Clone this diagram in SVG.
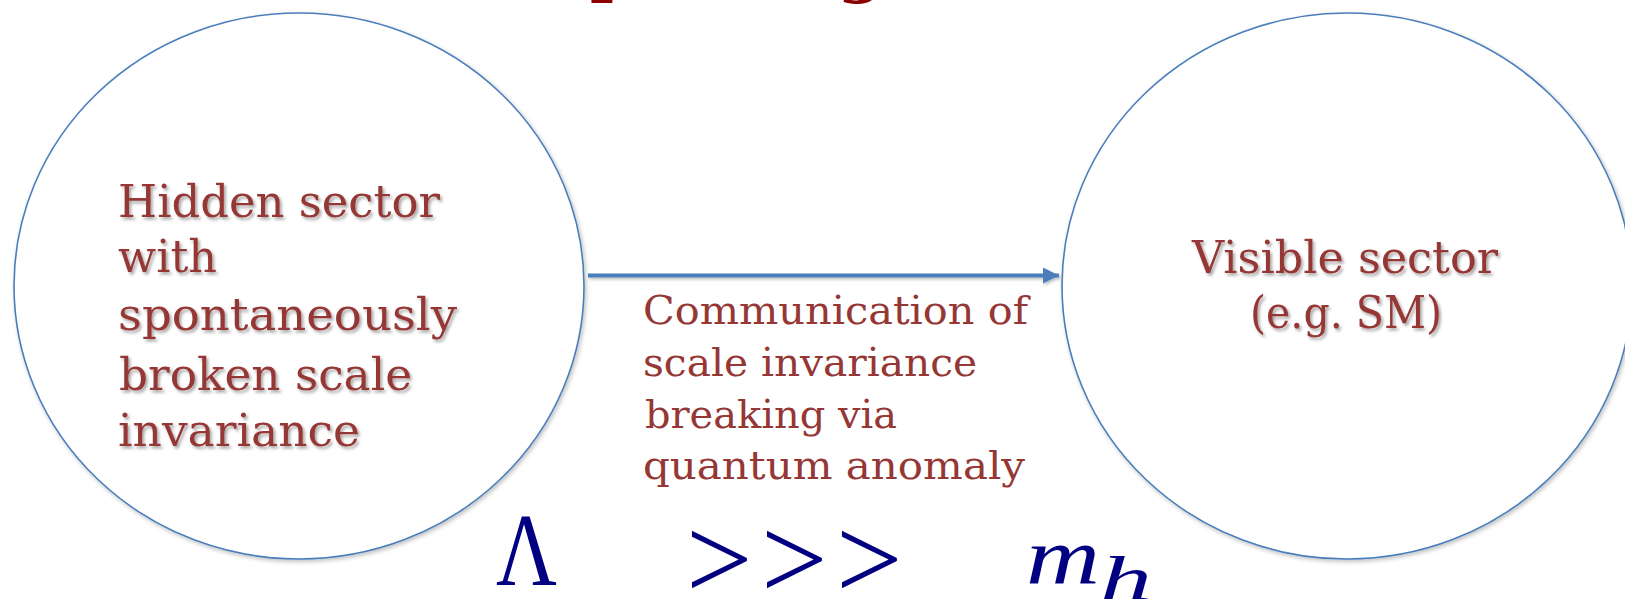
<svg xmlns="http://www.w3.org/2000/svg" width="1625" height="599" viewBox="0 0 1625 599">
<defs>
<style>
.node-shape{fill:#ffffff;stroke:#4a7ebb;stroke-width:1.6;filter:url(#shadow)}
.lbl{font-family:"DejaVu Serif","Liberation Serif",serif;fill:#953735;font-size:44px;filter:url(#tshadow)}
.mid{font-family:"DejaVu Serif","Liberation Serif",serif;fill:#953735;font-size:39px}
.math{font-family:"Liberation Serif","Times New Roman",serif;fill:#000080}
.title{font-family:"DejaVu Serif","Liberation Serif",serif;font-weight:bold;fill:#8b0000;font-size:64px}
</style>
<filter id="shadow" x="-10%" y="-10%" width="120%" height="120%">
<feDropShadow dx="1.5" dy="2" stdDeviation="2" flood-color="#000000" flood-opacity="0.25"/>
</filter>
<filter id="lshadow" filterUnits="userSpaceOnUse" x="570" y="255" width="510" height="45">
<feDropShadow dx="1.5" dy="2" stdDeviation="1.5" flood-color="#000000" flood-opacity="0.25"/>
</filter>
<filter id="tshadow" x="-10%" y="-20%" width="120%" height="140%">
<feDropShadow dx="2" dy="2.5" stdDeviation="1.5" flood-color="#000000" flood-opacity="0.35"/>
</filter>
<marker id="arrow" viewBox="0 0 16 16" refX="16" refY="8" markerWidth="17" markerHeight="16" markerUnits="userSpaceOnUse" orient="auto">
<path d="M0,0 L16,8 L0,16 z" fill="#4a7ebb"/>
</marker>
</defs>
<rect width="1625" height="599" fill="#ffffff"/>
<g id="title">
<text class="title" x="590" y="-10">p</text>
<text class="title" x="838" y="-10">g</text>
</g>
<g id="connectors" filter="url(#lshadow)">
<line x1="588" y1="275.5" x2="1059" y2="275.5" stroke="#4a7ebb" stroke-width="4" marker-end="url(#arrow)"/>
</g>
<g id="hidden-sector">
<ellipse class="node-shape" cx="299" cy="286" rx="285" ry="273"/>
<g class="lbl">
<text x="118" y="217" textLength="322" lengthAdjust="spacingAndGlyphs">Hidden sector</text>
<text x="118" y="272" textLength="99" lengthAdjust="spacingAndGlyphs">with</text>
<text x="118" y="330" textLength="339" lengthAdjust="spacingAndGlyphs">spontaneously</text>
<text x="119" y="390" textLength="293" lengthAdjust="spacingAndGlyphs">broken scale</text>
<text x="118" y="446" textLength="242" lengthAdjust="spacingAndGlyphs">invariance</text>
</g>
</g>
<g id="visible-sector">
<ellipse class="node-shape" cx="1347" cy="286" rx="285" ry="273"/>
<g class="lbl">
<text x="1192" y="273" textLength="306" lengthAdjust="spacingAndGlyphs">Visible sector</text>
<text x="1250" y="328" textLength="192" lengthAdjust="spacingAndGlyphs">(e.g. SM)</text>
</g>
</g>
<g id="edge-label" class="mid">
<text x="643" y="324" textLength="385" lengthAdjust="spacingAndGlyphs">Communication of</text>
<text x="643" y="376" textLength="334" lengthAdjust="spacingAndGlyphs">scale invariance</text>
<text x="645" y="428" textLength="252" lengthAdjust="spacingAndGlyphs">breaking via</text>
<text x="643" y="479" textLength="382" lengthAdjust="spacingAndGlyphs">quantum anomaly</text>
</g>
<g id="relation">
<text class="math" x="496" y="585" font-size="103" textLength="61" lengthAdjust="spacingAndGlyphs">Λ</text>
<text class="math" x="686 761 836" y="599" font-size="118">&gt;&gt;&gt;</text>
<text class="math" x="1026" y="583" font-size="80" font-style="italic" textLength="74" lengthAdjust="spacingAndGlyphs">m</text>
<text class="math" x="1100" y="600" font-size="64" font-style="italic" textLength="52" lengthAdjust="spacingAndGlyphs">h</text>
</g>
</svg>
